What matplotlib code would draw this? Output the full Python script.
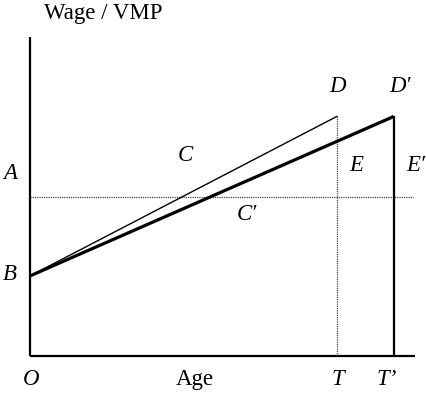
import matplotlib
matplotlib.use("Agg")
import matplotlib.pyplot as plt

# Values (normalised units: axes run 0..1)
age_start = 0.0
T = 0.797          # retirement age, old
T_prime = 0.945    # retirement age, new
B = 0.251          # starting wage / VMP
A = 0.498          # constant VMP level
D = 0.751          # end wage level
x_end = 1.0
y_end = 1.0
dash_end = 0.995

plt.rcParams['font.family'] = ['Liberation Serif', 'DejaVu Serif']
fs = 16.5

fig = plt.figure(figsize=(4.27, 3.94), dpi=100)
W, H = 427, 394
ax = fig.add_axes([30 / W, (H - 356) / H, 385 / W, 319 / H])
ax.set_xlim(0, x_end)
ax.set_ylim(0, y_end)
ax.axis('off')

# axes lines
ax.plot([0, 0], [0, y_end], color='black', lw=1.6, solid_capstyle='butt', clip_on=False)
ax.plot([0, x_end], [0, 0], color='black', lw=1.6, solid_capstyle='butt', clip_on=False)

# horizontal dotted A line
ax.plot([0, dash_end], [A, A], color='#444444', lw=0.9, ls=(0, (1, 0.8)), clip_on=False)

# thin wage line B -> D at T
ax.plot([age_start, T], [B, D], color='black', lw=1.0)
# dotted vertical at T
ax.plot([T, T], [0, D], color='#444444', lw=0.9, ls=(0, (1, 0.8)))

# thick wage line B -> D' at T'
ax.plot([age_start, T_prime], [B, D], color='black', lw=2.3, solid_capstyle='butt')
ax.plot([T_prime, T_prime], [0, D], color='black', lw=1.6, solid_capstyle='butt')

it = dict(fontsize=fs, style='italic', ha='center', va='center')
ax.text(-0.052, A + 0.073, 'A', clip_on=False, **it)
ax.text(-0.052, B + 0.006, 'B', clip_on=False, **it)
ax.text(0.403, 0.627, 'C', **it)
ax.text(0.563, 0.445, 'C′', **it)
ax.text(T + 0.003, 0.846, 'D', clip_on=False, **it)
ax.text(T_prime + 0.016, 0.846, 'D′', clip_on=False, **it)
ax.text(T + 0.05, 0.596, 'E', **it)
ax.text(T_prime + 0.058, 0.596, 'E′', clip_on=False, **it)
ax.text(0.003, -0.075, 'O', clip_on=False, **it)
ax.text(T + 0.003, -0.075, 'T', clip_on=False, **it)
ax.text(T_prime - 0.018, -0.075, 'T’', clip_on=False, **it)
ax.text(0.429, -0.075, 'Age', fontsize=fs, ha='center', va='center', clip_on=False)
ax.text(0.19, 1.075, 'Wage / VMP', fontsize=fs, ha='center', va='center', clip_on=False)

fig.savefig('out.png', dpi=100)
